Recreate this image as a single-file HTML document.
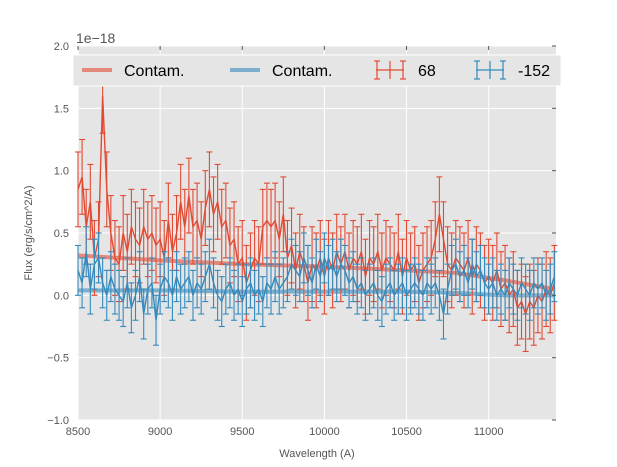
<!DOCTYPE html>
<html><head><meta charset="utf-8">
<style>
body{margin:0;background:#fff;}
svg{display:block;font-family:"Liberation Sans",sans-serif;}
</style></head>
<body>
<svg id="chart" width="617" height="467" viewBox="0 0 617 467">
  <rect x="78" y="46" width="478" height="374" fill="#E5E5E5"/>
  <g id="grid"></g>
  <g id="marks"></g>
  <g id="ticks"></g>
  <text x="76" y="43" font-size="14" fill="#555">1e−18</text>
  <text x="317" y="457" font-size="11" fill="#555" text-anchor="middle">Wavelength (A)</text>
  <text transform="translate(32,233) rotate(-90)" font-size="11" fill="#555" text-anchor="middle">Flux (erg/s/cm^2/A)</text>
  <g>
    <rect x="73" y="55" width="488" height="31" fill="#E5E5E5" stroke="#fff" stroke-width="1"/>
    <g>
      <line x1="82" y1="70" x2="112" y2="70" stroke="#E24A33" stroke-opacity="0.6" stroke-width="4"/>
      <text x="124" y="76" font-size="16" fill="#000">Contam.</text>
    </g>
    <g>
      <line x1="230" y1="70" x2="260" y2="70" stroke="#348ABD" stroke-opacity="0.6" stroke-width="4"/>
      <text x="272" y="76" font-size="16" fill="#000">Contam.</text>
    </g>
    <g stroke="#E24A33" stroke-width="1.2">
      <line x1="376" y1="70" x2="404" y2="70"/><line x1="377" y1="61" x2="377" y2="79"/><line x1="403" y1="61" x2="403" y2="79"/>
      <line x1="390" y1="61" x2="390" y2="79"/>
      <line x1="374" y1="61" x2="380" y2="61"/><line x1="374" y1="79" x2="380" y2="79"/>
      <line x1="400" y1="61" x2="406" y2="61"/><line x1="400" y1="79" x2="406" y2="79"/>
      <text x="418" y="76" font-size="16" fill="#000" stroke="none">68</text>
    </g>
    <g stroke="#348ABD" stroke-width="1.2">
      <line x1="476" y1="70" x2="504" y2="70"/><line x1="477" y1="61" x2="477" y2="79"/><line x1="503" y1="61" x2="503" y2="79"/>
      <line x1="490" y1="61" x2="490" y2="79"/>
      <line x1="474" y1="61" x2="480" y2="61"/><line x1="474" y1="79" x2="480" y2="79"/>
      <line x1="500" y1="61" x2="506" y2="61"/><line x1="500" y1="79" x2="506" y2="79"/>
      <text x="518" y="76" font-size="16" fill="#000" stroke="none">-152</text>
    </g>
  </g>
</svg>
<script>
const xTicks = [8500, 9000, 9500, 10000, 10500, 11000];
const yTicks = [-1.0, -0.5, 0.0, 0.5, 1.0, 1.5, 2.0];
const waveStart = 8500;
const waveStep = 25;
const redFlux = [0.85,0.95,0.55,0.75,0.30,0.45,1.6,0.85,0.50,0.30,0.25,0.50,0.35,0.55,0.45,0.40,0.55,0.45,0.50,0.40,
0.45,0.30,0.60,0.35,0.50,0.75,0.55,0.80,0.55,0.60,0.45,0.70,0.85,0.65,0.75,0.55,0.60,0.40,0.45,0.25,
0.30,0.10,0.20,0.30,0.25,0.55,0.60,0.55,0.60,0.45,0.65,0.30,0.40,0.20,0.35,0.25,0.10,0.25,0.20,0.30,
0.15,0.30,0.20,0.35,0.25,0.35,0.20,0.30,0.25,0.35,0.15,0.30,0.25,0.35,0.20,0.30,0.25,0.20,0.35,0.15,
0.30,0.20,0.25,0.10,0.20,0.25,0.30,0.45,0.65,0.45,0.25,0.20,0.30,0.25,0.20,0.30,0.15,0.25,0.20,0.10,
0.15,0.10,0.20,0.05,0.10,0.00,0.05,-0.10,-0.05,-0.15,-0.05,-0.10,0.00,-0.05,0.05,0.00,0.10];
const blueFlux = [0.20,0.10,0.35,0.05,0.25,0.30,0.10,0.00,0.15,0.05,0.00,-0.05,0.10,-0.10,0.00,0.15,-0.15,0.05,0.10,-0.20,
0.05,0.15,0.10,0.00,0.15,0.05,0.10,0.15,0.00,0.10,0.05,0.15,0.25,0.10,0.00,-0.05,0.05,0.10,0.00,0.05,
-0.05,0.05,0.10,0.00,0.05,-0.05,0.10,0.05,0.15,0.05,0.10,0.15,0.25,0.20,0.15,0.30,0.20,0.10,0.25,0.15,
0.30,0.20,0.25,0.15,0.25,0.20,0.10,0.15,0.05,0.10,0.00,0.05,0.10,0.00,-0.05,0.05,0.10,0.00,0.05,0.10,
0.00,0.05,0.10,0.05,0.00,0.10,0.05,0.10,0.00,-0.15,0.05,0.20,0.25,0.15,0.20,0.10,0.25,0.15,0.20,0.10,
0.05,0.10,0.00,0.05,0.00,0.10,0.05,0.00,0.10,0.05,0.00,0.10,0.05,0.10,0.00,0.05,0.15];
const redErr = 0.3;
const blueErr = 0.2;
const contamWave = [8500, 9000, 9500, 10000, 10500, 10800, 11100, 11400];
const contamRed = [0.32, 0.28, 0.25, 0.23, 0.20, 0.18, 0.12, 0.05];
const contamBlue = [0.04, 0.04, 0.03, 0.03, 0.03, 0.02, 0.00, 0.00];

const X0=78, X1=556, Y0=46, Y1=420, xmin=8500, xmax=11410, ymin=-1, ymax=2;
const sx = v => X0 + (v - xmin) / (xmax - xmin) * (X1 - X0);
const sy = v => Y1 - (v - ymin) / (ymax - ymin) * (Y1 - Y0);
const NS = 'http://www.w3.org/2000/svg';
function mk(tag, attrs, parent){ const e=document.createElementNS(NS,tag); for(const k in attrs) e.setAttribute(k,attrs[k]); parent.appendChild(e); return e; }
const grid=document.getElementById('grid'), marks=document.getElementById('marks'), ticks=document.getElementById('ticks');

xTicks.forEach(t=>{
  const g=mk('line',{x1:sx(t),x2:sx(t),y1:Y0,y2:Y1,stroke:'#fff','stroke-width':1},grid);
  
  
  const lb=mk('text',{x:sx(t),y:Y1+15,'font-size':11,fill:'#555','text-anchor':'middle'},ticks);
  lb.textContent=t;
  
  
  mk('line',{x1:sx(t),x2:sx(t),y1:Y0,y2:Y0+4,stroke:'#555'},ticks);
});
yTicks.forEach(t=>{
  const g=mk('line',{x1:X0,x2:X1,y1:sy(t),y2:sy(t),stroke:'#fff','stroke-width':1},grid);
  
  
  const lb=mk('text',{x:X0-9,y:sy(t)+4,'font-size':11,fill:'#555','text-anchor':'end'},ticks);
  lb.textContent=t.toFixed(1).replace('-','−');
  
  
  mk('line',{x1:X1-4,x2:X1,y1:sy(t),y2:sy(t),stroke:'#555'},ticks);
});

function contam(vals,color,name){
  const pts=contamWave.map((w,i)=>sx(w)+','+sy(vals[i])).join(' ');
  const p=mk('polyline',{points:pts,fill:'none',stroke:color,'stroke-opacity':0.6,'stroke-width':4},marks);
  
  
}
function series(vals,err,color,name){
  const g=mk('g',{stroke:color,'stroke-width':1.1,fill:'none'},marks);
  
  
  vals.forEach((v,i)=>{
    const x=sx(waveStart+i*waveStep);
    mk('line',{x1:x,x2:x,y1:sy(v-err),y2:sy(v+err)},g);
    mk('line',{x1:x-3,x2:x+3,y1:sy(v-err),y2:sy(v-err)},g);
    mk('line',{x1:x-3,x2:x+3,y1:sy(v+err),y2:sy(v+err)},g);
  });
  const pts=vals.map((v,i)=>sx(waveStart+i*waveStep)+','+sy(v)).join(' ');
  mk('polyline',{points:pts,'stroke-width':1.4},g);
}
contam(contamRed,'#E24A33','contam-line-red');
contam(contamBlue,'#348ABD','contam-line-blue');
series(redFlux,redErr,'#E24A33','series-68');
series(blueFlux,blueErr,'#348ABD','series-152');
</script>
</body></html>
